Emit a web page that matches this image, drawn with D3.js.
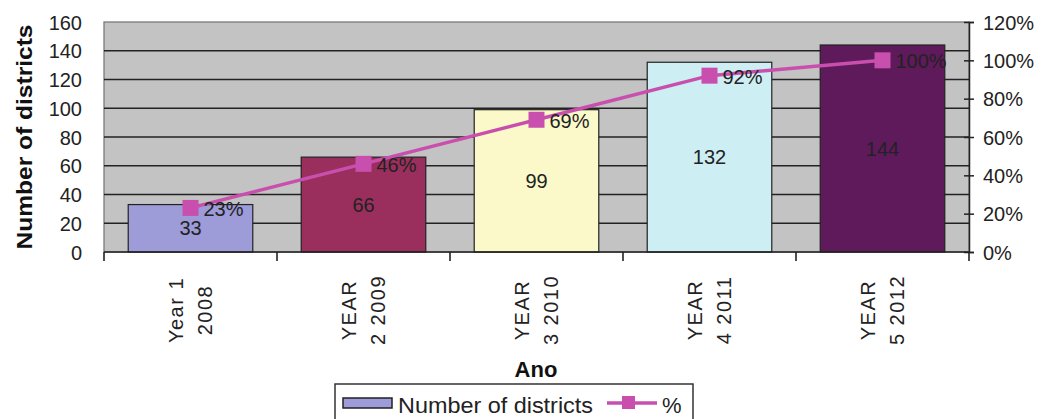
<!DOCTYPE html>
<html><head><meta charset="utf-8">
<script src="https://cdn.jsdelivr.net/npm/d3@7"></script>
<style>
body{margin:0;background:#fff;}
text{font-family:"Liberation Sans",Arial,sans-serif;}
</style></head>
<body><svg id="c" width="1044" height="419"></svg>
<script>
const categories = [["Year 1","2008"],["YEAR","2 2009"],["YEAR","3 2010"],["YEAR","4 2011"],["YEAR","5 2012"]];
const districts = [33, 66, 99, 132, 144];
const percents = [23, 46, 69, 92, 100];
const leftTicks = [0,20,40,60,80,100,120,140,160];
const rightTicks = [0,20,40,60,80,100,120];
const barColors = ["#9d9bd8","#9a2f5e","#fbf9c9","#cdeef2","#5f1a5b"];
const lineColor = "#c94fae";

const svg = d3.select("#c");
const L=104, R=969, T=22, B=252;
const x = d3.scaleBand().domain(d3.range(5)).range([L,R]).paddingInner(0.28).paddingOuter(0.14);
const y = d3.scaleLinear().domain([0,160]).range([B,T]);
const y2 = d3.scaleLinear().domain([0,120]).range([B,T]);

svg.append("rect").attr("x",L).attr("y",T).attr("width",R-L).attr("height",B-T).attr("fill","#c3c3c3").attr("stroke","#7a7a7a").attr("stroke-width",1.3);
svg.append("g").selectAll("line").data(leftTicks.filter(d=>d>0 && d<160)).join("line")
  .attr("x1",L).attr("x2",R).attr("y1",d=>y(d)).attr("y2",d=>y(d)).attr("stroke","#222").attr("stroke-width",1.3);

svg.append("g").selectAll("rect").data(districts).join("rect")
  .attr("x",(d,i)=>x(i)).attr("width",x.bandwidth()).attr("y",d=>y(d)).attr("height",d=>B-y(d))
  .attr("fill",(d,i)=>barColors[i]).attr("stroke","#222").attr("stroke-width",1.2);

svg.append("g").selectAll("text").data(districts).join("text")
  .attr("x",(d,i)=>x(i)+x.bandwidth()/2).attr("y",d=>(y(d)+B)/2+7)
  .attr("text-anchor","middle").attr("font-size",20).attr("fill","#222").text(d=>d);

// left axis
const ga = svg.append("g").attr("transform",`translate(${L},0)`)
  .call(d3.axisLeft(y).tickValues(leftTicks).tickSize(0).tickPadding(22));
ga.select(".domain").remove();
ga.selectAll("text").attr("font-size",20).attr("fill","#222").attr("dy","0.36em").style("font-family","Liberation Sans, Arial, sans-serif");

// right axis
const gr = svg.append("g").attr("transform",`translate(${R},0)`)
  .call(d3.axisRight(y2).tickValues(rightTicks).tickFormat(d=>d+"%").tickSize(5).tickPadding(9));
gr.select(".domain").attr("stroke","#222").attr("stroke-width",1.5);
gr.selectAll(".tick line").attr("x1",-5).attr("stroke","#222").attr("stroke-width",1.5);
gr.selectAll("text").attr("font-size",20).attr("fill","#222").attr("dy","0.36em").style("font-family","Liberation Sans, Arial, sans-serif");

// bottom axis
svg.append("line").attr("x1",L).attr("x2",R).attr("y1",B).attr("y2",B).attr("stroke","#222").attr("stroke-width",1.6);
const bounds = d3.range(6).map(i=>L+i*x.step());
svg.append("g").selectAll("line").data(bounds).join("line")
  .attr("x1",d=>d).attr("x2",d=>d).attr("y1",B).attr("y2",B+9).attr("stroke","#222").attr("stroke-width",1.6);

// x labels rotated
const xl = svg.append("g").selectAll("text").data(categories).join("text")
  .attr("transform",(d,i)=>`translate(${x(i)+x.bandwidth()/2},310) rotate(-90)`)
  .attr("text-anchor","middle").attr("font-size",20).attr("letter-spacing",1.5).attr("fill","#222");
xl.each(function(d){
  const t=d3.select(this);
  t.append("tspan").attr("x",0).attr("y",-8).text(d[0]);
  t.append("tspan").attr("x",0).attr("y",21).text(d[1]);
});

// line
const px = i=>x(i)+x.bandwidth()/2;
svg.append("path").datum(percents).attr("fill","none").attr("stroke",lineColor).attr("stroke-width",3.5)
  .attr("d",d3.line().x((d,i)=>px(i)).y(d=>y2(d)));
svg.append("g").selectAll("rect").data(percents).join("rect")
  .attr("x",(d,i)=>px(i)-8).attr("y",d=>y2(d)-8).attr("width",16).attr("height",16).attr("fill",lineColor);
svg.append("g").selectAll("text").data(percents).join("text")
  .attr("x",(d,i)=>px(i)+13).attr("y",d=>y2(d)+8).attr("font-size",20).attr("fill","#222").text(d=>d+"%");

// axis titles
svg.append("text").attr("transform","translate(32,137) rotate(-90)").attr("text-anchor","middle")
  .attr("font-size",22).attr("font-weight","bold").attr("fill","#111")
  .attr("textLength",225).attr("lengthAdjust","spacingAndGlyphs").text("Number of districts");
svg.append("text").attr("x",536).attr("y",377).attr("text-anchor","middle")
  .attr("font-size",22).attr("font-weight","bold").attr("fill","#111").text("Ano");

// legend
const lg = svg.append("g");
lg.append("rect").attr("x",335).attr("y",384).attr("width",358).attr("height",45).attr("fill","#fff").attr("stroke","#333").attr("stroke-width",1.5);
lg.append("rect").attr("x",343).attr("y",398).attr("width",49).attr("height",10).attr("fill",barColors[0]).attr("stroke","#222").attr("stroke-width",1.5);
lg.append("text").attr("x",398).attr("y",413).attr("font-size",22).attr("fill","#222")
  .attr("textLength",195).attr("lengthAdjust","spacingAndGlyphs").text("Number of districts");
lg.append("line").attr("x1",607).attr("x2",657).attr("y1",403).attr("y2",403).attr("stroke",lineColor).attr("stroke-width",3.5);
lg.append("rect").attr("x",622).attr("y",396).attr("width",13).attr("height",13).attr("fill",lineColor);
lg.append("text").attr("x",662).attr("y",413).attr("font-size",22).attr("fill","#222").text("%");
</script></body></html>
